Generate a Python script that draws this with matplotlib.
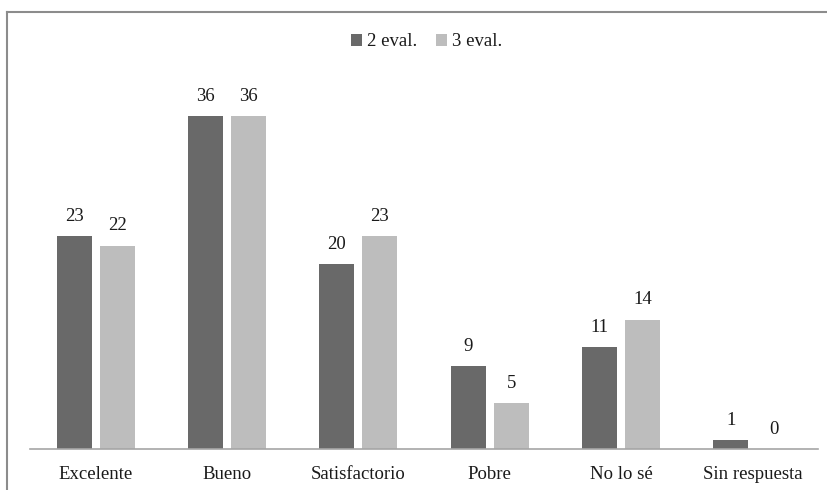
import matplotlib.pyplot as plt
import numpy as np
from matplotlib.lines import Line2D

# Responses per category for the two evaluations
categories = ['Excelente', 'Bueno', 'Satisfactorio', 'Pobre', 'No lo sé', 'Sin respuesta']
eval2 = [23, 36, 20, 9, 11, 1]
eval3 = [22, 36, 23, 5, 14, 0]
series_names = ['2 eval.', '3 eval.']

plt.rcParams['font.family'] = ['Liberation Serif', 'DejaVu Serif']

fig = plt.figure(figsize=(8.28, 4.9), dpi=100)
ax = fig.add_axes([30 / 828, 41 / 490, 788 / 828, 370 / 490])

dark = '#696969'
light = '#bdbdbd'
x = np.arange(len(categories))
width = 0.267
offset = 0.164

b2 = ax.bar(x - offset, eval2, width, color=dark, label=series_names[0])
b3 = ax.bar(x + offset, eval3, width, color=light, label=series_names[1])

for bars, vals in ((b2, eval2), (b3, eval3)):
    for rect, v in zip(bars, vals):
        ax.annotate(str(v), (rect.get_x() + rect.get_width() / 2, v),
                    xytext=(0, 8), textcoords='offset points',
                    ha='center', va='bottom', fontsize=13.5, color='#1a1a1a')

ax.set_xlim(-0.5, len(categories) - 0.5)
ax.set_ylim(0, 40)
ax.set_xticks(x)
ax.set_xticklabels(categories, fontsize=13.5, color='#1a1a1a')
ax.tick_params(axis='x', length=0, pad=12)
ax.set_yticks([])
for side in ('top', 'right', 'left'):
    ax.spines[side].set_visible(False)
ax.spines['bottom'].set_color('#a6a6a6')
ax.spines['bottom'].set_linewidth(1.2)

ax.legend(loc='center', bbox_to_anchor=(427 / 828, 1 - 42 / 490),
          bbox_transform=fig.transFigure, ncol=2, frameon=False,
          fontsize=13.5, handlelength=0.55, handleheight=0.55,
          handletextpad=0.3, columnspacing=1.0, labelcolor='#1a1a1a')

# outer frame (top and left edges)
fig.add_artist(Line2D([7 / 828, 1], [1 - 12 / 490, 1 - 12 / 490],
                      transform=fig.transFigure, color='#8c8c8c', lw=1.5))
fig.add_artist(Line2D([7 / 828, 7 / 828], [0, 1 - 12 / 490],
                      transform=fig.transFigure, color='#8c8c8c', lw=1.5))

fig.savefig('out.png', dpi=100)
